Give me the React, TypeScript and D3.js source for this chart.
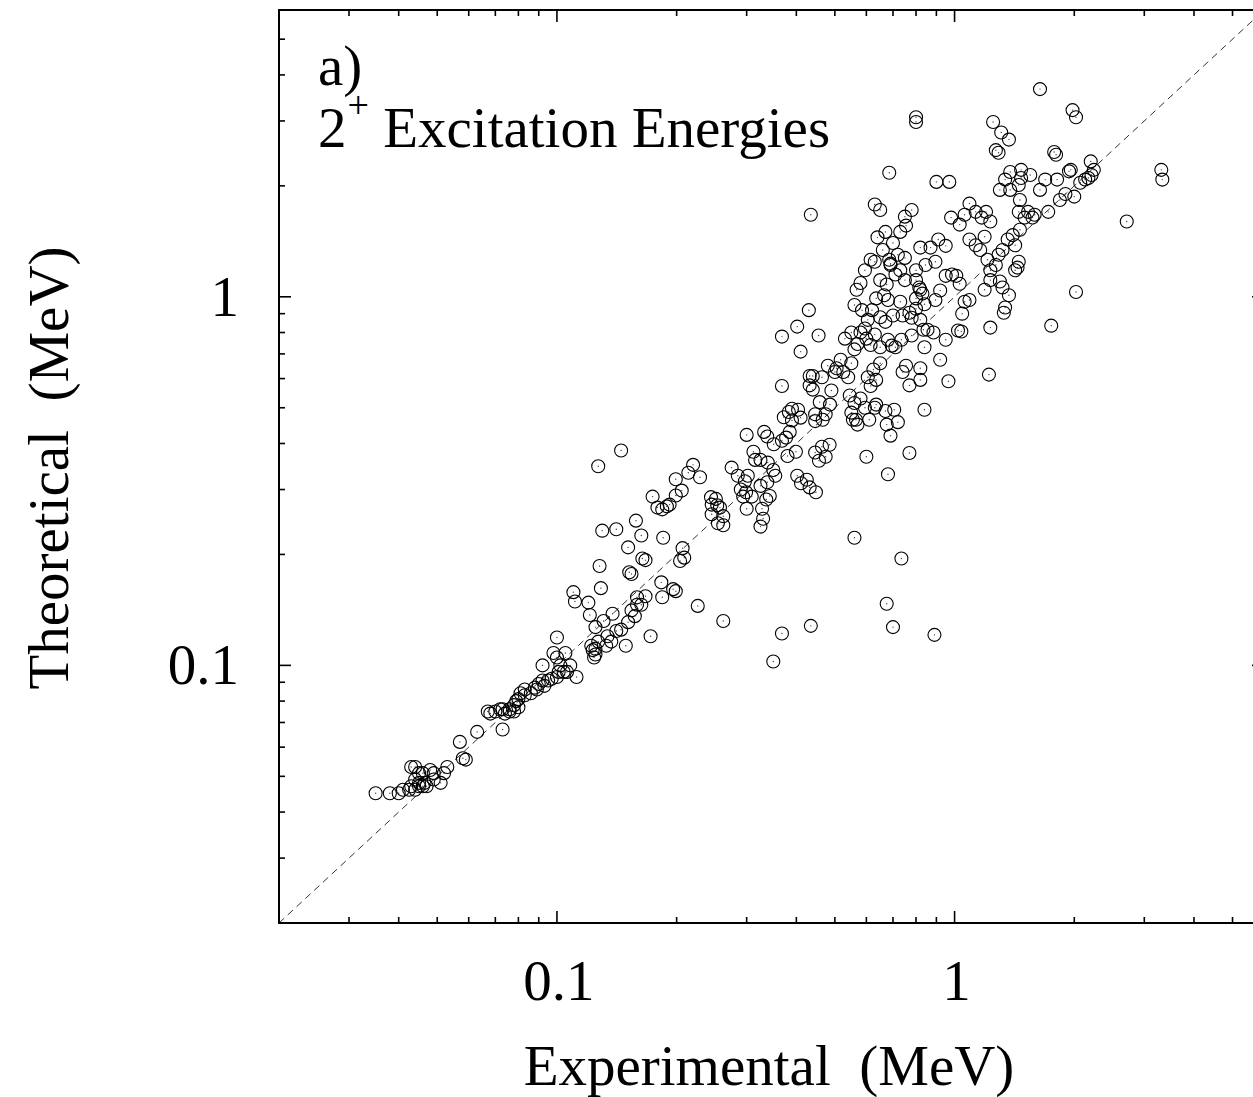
import React from "react";
import * as d3 from "d3";

// [experimental MeV, theoretical MeV]
const lowEnergyPoints: [number, number][] = [
  [0.035, 0.045], [0.038, 0.045], [0.040, 0.045], [0.041, 0.046], [0.0425, 0.046],
  [0.043, 0.047], [0.044, 0.046], [0.045, 0.047], [0.046, 0.047], [0.0465, 0.048],
  [0.047, 0.047], [0.049, 0.049], [0.043, 0.053], [0.044, 0.053], [0.045, 0.051],
  [0.046, 0.051], [0.048, 0.052], [0.049, 0.051], [0.052, 0.051], [0.053, 0.053],
  [0.051, 0.048], [0.045, 0.048], [0.044, 0.049],
  [0.057, 0.062], [0.059, 0.0555], [0.058, 0.056], [0.063, 0.066], [0.073, 0.067],
  [0.067, 0.075], [0.068, 0.074], [0.070, 0.075], [0.072, 0.076], [0.074, 0.074],
  [0.076, 0.076], [0.078, 0.078], [0.079, 0.080], [0.080, 0.081], [0.081, 0.084],
  [0.083, 0.083], [0.086, 0.084], [0.089, 0.086], [0.090, 0.089], [0.093, 0.088],
  [0.095, 0.091], [0.080, 0.077], [0.078, 0.075], [0.076, 0.075], [0.073, 0.076],
  [0.083, 0.086], [0.092, 0.091], [0.088, 0.087],
  [0.100, 0.105], [0.092, 0.100], [0.097, 0.092], [0.100, 0.093], [0.101, 0.096],
  [0.104, 0.096], [0.106, 0.096], [0.108, 0.100], [0.112, 0.093], [0.105, 0.108],
  [0.100, 0.119], [0.098, 0.108], [0.102, 0.100],
];

const midEnergyPoints: [number, number][] = [
  [0.110, 0.158], [0.111, 0.149], [0.120, 0.148], [0.121, 0.137], [0.122, 0.113],
  [0.123, 0.110], [0.125, 0.107], [0.125, 0.111], [0.124, 0.105], [0.127, 0.116],
  [0.131, 0.132], [0.133, 0.113], [0.134, 0.120], [0.137, 0.116], [0.138, 0.138],
  [0.141, 0.124], [0.145, 0.125], [0.149, 0.113], [0.151, 0.131], [0.154, 0.141],
  [0.157, 0.136], [0.159, 0.153], [0.159, 0.146], [0.163, 0.146], [0.167, 0.154],
  [0.172, 0.120], [0.152, 0.179], [0.154, 0.177], [0.167, 0.193], [0.164, 0.195],
  [0.151, 0.209], [0.129, 0.162], [0.128, 0.186], [0.130, 0.232], [0.141, 0.234],
  [0.145, 0.383], [0.127, 0.347], [0.158, 0.247], [0.163, 0.225], [0.185, 0.222],
  [0.183, 0.168], [0.184, 0.153], [0.196, 0.161], [0.199, 0.159], [0.209, 0.196],
  [0.204, 0.192], [0.207, 0.208], [0.226, 0.145], [0.262, 0.132], [0.125, 0.127],
  [0.174, 0.287], [0.179, 0.268], [0.184, 0.265], [0.189, 0.270], [0.192, 0.273],
  [0.199, 0.289], [0.206, 0.298], [0.214, 0.333], [0.220, 0.350], [0.199, 0.320],
  [0.229, 0.324], [0.244, 0.286], [0.245, 0.273], [0.253, 0.272], [0.257, 0.268],
  [0.251, 0.283], [0.262, 0.240], [0.262, 0.254], [0.245, 0.257], [0.254, 0.243],
  [0.275, 0.344], [0.285, 0.327], [0.290, 0.300], [0.294, 0.287], [0.299, 0.295],
  [0.297, 0.316], [0.302, 0.327], [0.300, 0.422], [0.312, 0.380], [0.315, 0.361],
  [0.300, 0.266], [0.309, 0.287], [0.328, 0.266], [0.325, 0.238], [0.330, 0.250],
  [0.336, 0.282], [0.338, 0.314], [0.325, 0.307], [0.343, 0.288], [0.354, 0.327],
  [0.350, 0.339], [0.325, 0.361], [0.339, 0.355], [0.332, 0.430], [0.351, 0.398],
  [0.338, 0.418], [0.368, 0.407], [0.377, 0.415], [0.385, 0.430], [0.390, 0.462],
  [0.404, 0.494], [0.410, 0.470], [0.380, 0.370], [0.399, 0.380], [0.402, 0.327],
  [0.411, 0.312], [0.425, 0.319], [0.432, 0.304], [0.448, 0.295], [0.464, 0.392],
  [0.456, 0.359], [0.446, 0.378], [0.446, 0.460], [0.446, 0.480], [0.432, 0.575],
  [0.440, 0.560], [0.458, 0.518], [0.466, 0.464], [0.474, 0.480], [0.486, 0.510],
  [0.432, 0.610], [0.410, 0.710], [0.368, 0.573], [0.372, 0.471], [0.383, 0.487],
  [0.390, 0.497], [0.368, 0.780], [0.402, 0.830], [0.430, 0.920], [0.455, 0.785],
];

const highEnergyPoints: [number, number][] = [
  [0.464, 0.605], [0.48, 0.65], [0.49, 0.557], [0.505, 0.64], [0.517, 0.675],
  [0.53, 0.77], [0.525, 0.625], [0.54, 0.605], [0.55, 0.66], [0.56, 0.72],
  [0.57, 0.745], [0.55, 0.80], [0.58, 0.80], [0.595, 0.82], [0.60, 0.77],
  [0.615, 0.74], [0.63, 0.79], [0.605, 0.866], [0.585, 0.92], [0.56, 0.95],
  [0.567, 1.045], [0.58, 1.09], [0.595, 1.18], [0.615, 1.26], [0.63, 1.245],
  [0.65, 1.11], [0.665, 1.01], [0.675, 1.08], [0.68, 0.98], [0.70, 0.89],
  [0.65, 0.88], [0.62, 0.92], [0.635, 0.99], [0.67, 0.855], [0.695, 0.737],
  [0.65, 0.73], [0.68, 0.765], [0.71, 0.73], [0.735, 0.765], [0.74, 0.89],
  [0.77, 0.905], [0.73, 0.97], [0.78, 0.877], [0.80, 0.928], [0.82, 0.866],
  [0.80, 0.99], [0.83, 1.02], [0.815, 1.06], [0.84, 0.955], [0.835, 0.814],
  [0.78, 0.785], [0.84, 0.73], [0.885, 0.80], [0.855, 0.814], [0.92, 0.675],
  [0.95, 0.765], [0.895, 0.98], [0.92, 1.04], [0.95, 1.14], [0.985, 1.15],
  [1.01, 1.14], [1.03, 1.085], [1.06, 0.97], [1.045, 0.90], [1.09, 0.98],
  [1.02, 0.81], [0.895, 1.245], [0.87, 1.36], [0.91, 1.43], [0.82, 1.36],
  [0.80, 1.18], [0.75, 1.275], [0.73, 1.18], [0.71, 1.15], [0.69, 1.22],
  [0.66, 1.34], [0.64, 1.45], [0.70, 1.40], [0.73, 1.50], [0.755, 1.56],
  [0.78, 1.72], [0.75, 1.65], [0.65, 1.72], [0.63, 1.78], [0.67, 1.50],
  [0.72, 1.30], [0.75, 1.11], [0.80, 1.11], [0.82, 1.045], [0.845, 1.22],
  [0.95, 1.375], [0.98, 1.64], [1.03, 1.57], [1.06, 1.67], [1.09, 1.79],
  [1.13, 1.70], [1.17, 1.64], [1.20, 1.70], [1.23, 1.60], [1.19, 1.455],
  [1.09, 1.43], [1.13, 1.38], [1.16, 1.34], [1.21, 1.26], [1.23, 1.18],
  [1.23, 1.11], [1.19, 1.045], [1.27, 1.22], [1.29, 1.30], [1.32, 1.34],
  [1.36, 1.43], [1.40, 1.47], [1.42, 1.38], [1.46, 1.52], [1.45, 1.70],
  [1.50, 1.64], [1.53, 1.70], [1.57, 1.64], [1.59, 1.67], [1.46, 1.83],
  [1.47, 2.21], [1.47, 2.10], [1.45, 2.01], [1.38, 2.18], [1.34, 2.08],
  [1.30, 1.95], [1.38, 1.95], [1.55, 2.14], [1.64, 1.95], [1.69, 2.08],
  [1.78, 2.47], [1.80, 2.43], [1.81, 2.08], [1.94, 2.19], [1.96, 2.21],
  [2.0, 1.87], [2.07, 2.04], [2.13, 2.08], [2.17, 2.10], [2.21, 2.14],
  [2.24, 2.21], [2.20, 2.33], [1.72, 1.70], [1.84, 1.83], [1.90, 1.90],
  [0.685, 1.26], [0.69, 1.23],
  [1.30, 1.10], [1.32, 1.06], [1.34, 0.935], [1.33, 0.905], [1.37, 1.01],
  [1.42, 1.18], [1.44, 1.20], [1.45, 1.245], [1.23, 0.825], [1.22, 0.615],
  [1.04, 0.805], [0.82, 0.64], [0.77, 0.575], [0.82, 0.595], [0.74, 0.625],
  [0.755, 0.65], [0.84, 0.494], [0.965, 0.59], [0.65, 0.66], [0.625, 0.635],
  [0.605, 0.605], [0.615, 0.573], [0.635, 0.595], [0.58, 0.53], [0.56, 0.515],
  [0.55, 0.485], [0.555, 0.464], [0.57, 0.45], [0.595, 0.50], [0.61, 0.464],
  [0.635, 0.51], [0.67, 0.49], [0.705, 0.494], [0.69, 0.42], [0.675, 0.45],
  [0.565, 0.464], [0.77, 0.377], [0.72, 0.457], [0.485, 0.397], [0.474, 0.368],
  [0.63, 0.50], [0.545, 0.54], [0.50, 0.625],
];

const outlierPoints: [number, number][] = [
  [1.64, 3.66], [1.98, 3.21], [2.02, 3.07], [0.80, 3.07], [0.80, 2.98],
  [1.25, 2.98], [1.31, 2.79], [1.37, 2.67], [1.27, 2.50], [1.29, 2.46],
  [0.685, 2.17], [0.97, 2.05], [0.90, 2.05], [2.02, 1.03], [1.75, 0.835],
  [2.71, 1.60], [3.31, 2.21], [3.33, 2.08], [0.435, 1.67],
  [0.56, 0.222], [0.60, 0.368], [0.68, 0.33], [0.735, 0.195], [0.675, 0.147],
  [0.70, 0.127], [0.89, 0.121], [0.435, 0.128], [0.368, 0.122], [0.35, 0.1025],
  [0.44, 0.61],
];

const majorTicks = [0.1, 1];
const minorTicks = [
  0.02, 0.03, 0.04, 0.05, 0.06, 0.07, 0.08, 0.09,
  0.2, 0.3, 0.4, 0.5, 0.6, 0.7, 0.8, 0.9,
  2, 3, 4, 5, 6,
];
const tickLabels = ["0.1", "1"];
const domain: [number, number] = [0.02, 6];

const W = 1253;
const H = 1097;
const left = 279;
const right = 1264;
const top = 10;
const bottom = 923;
const FONT = "'Liberation Serif', 'Times New Roman', Times, serif";
const FS = 57;

export default function App() {
  const x = d3.scaleLog().domain(domain).range([left, right]);
  const y = d3.scaleLog().domain(domain).range([bottom, top]);
  const points = [...lowEnergyPoints, ...midEnergyPoints, ...highEnergyPoints, ...outlierPoints];
  const majorLen = 12;
  const minorLen = 6;

  const ticks: React.ReactNode[] = [];
  const addTicks = (vals: number[], len: number, kind: string) => {
    vals.forEach((v, i) => {
      const px = x(v);
      const py = y(v);
      ticks.push(
        <line key={`${kind}b${i}`} x1={px} x2={px} y1={bottom} y2={bottom - len} />,
        <line key={`${kind}t${i}`} x1={px} x2={px} y1={top} y2={top + len} />,
        <line key={`${kind}l${i}`} x1={left} x2={left + len} y1={py} y2={py} />,
        <line key={`${kind}r${i}`} x1={right} x2={right - len} y1={py} y2={py} />
      );
    });
  };
  addTicks(majorTicks, majorLen, "M");
  addTicks(minorTicks, minorLen, "m");

  const diag = d3.line<number>().x((d) => x(d)).y((d) => y(d))(domain);

  return (
    <svg
      width={W}
      height={H}
      style={{ position: "absolute", left: 0, top: 0, background: "#fff" }}
      fontFamily={FONT}
    >
      <rect x={0} y={0} width={W} height={H} fill="#fff" />
      <path d={diag || ""} stroke="#333" strokeWidth={1} strokeDasharray="7,5" fill="none" />
      <g>
        {points.map((d, i) => (
          <g key={i}>
            <circle cx={x(d[0])} cy={y(d[1])} r={6.5} fill="none" stroke="#000" strokeWidth={1.1} />
            <circle cx={x(d[0])} cy={y(d[1])} r={0.7} fill="#444" />
          </g>
        ))}
      </g>
      <g stroke="#000" strokeWidth={1.6}>{ticks}</g>
      <rect
        x={left}
        y={top}
        width={right - left}
        height={bottom - top}
        fill="none"
        stroke="#000"
        strokeWidth={2}
      />
      {majorTicks.map((v, i) => (
        <text key={`xl${i}`} x={x(v) + 2} y={1000} fontSize={FS} textAnchor="middle" fill="#000">
          {tickLabels[i]}
        </text>
      ))}
      {majorTicks.map((v, i) => (
        <text key={`yl${i}`} x={239} y={y(v) + 19} fontSize={FS} textAnchor="end" fill="#000">
          {tickLabels[i]}
        </text>
      ))}
      <text x={769} y={1085} fontSize={FS} textAnchor="middle" fill="#000" style={{ whiteSpace: "pre" }}>
        {"Experimental  (MeV)"}
      </text>
      <text
        transform="translate(68,468) rotate(-90)"
        fontSize={FS}
        textAnchor="middle"
        fill="#000"
        style={{ whiteSpace: "pre" }}
      >
        {"Theoretical  (MeV)"}
      </text>
      <text x={318} y={85} fontSize={FS} fill="#000">a)</text>
      <text x={318} y={147} fontSize={FS} fill="#000" style={{ whiteSpace: "pre" }}>
        2
        <tspan fontSize={38} dx={1} dy={-29}>+</tspan>
        <tspan dy={29}>{" Excitation Energies"}</tspan>
      </text>
    </svg>
  );
}
